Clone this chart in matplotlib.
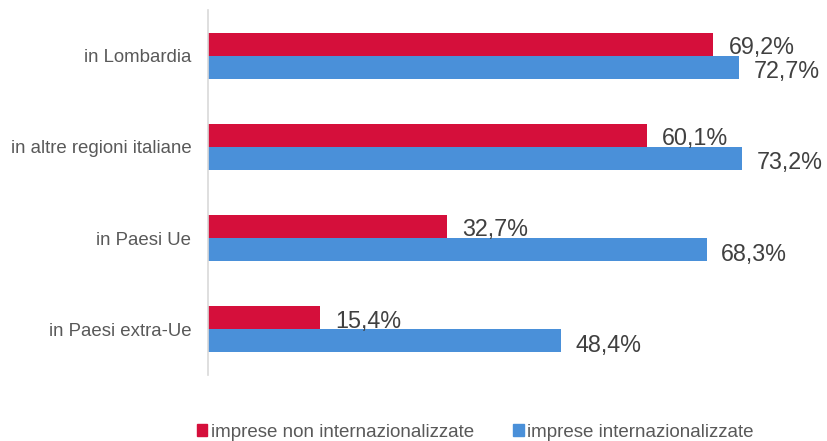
import matplotlib.pyplot as plt
import numpy as np
from matplotlib.patches import Patch

plt.rcParams['font.family'] = ['Liberation Sans', 'DejaVu Sans']

categories = ['in Lombardia', 'in altre regioni italiane', 'in Paesi Ue', 'in Paesi extra-Ue']
non_intern = [69.2, 60.1, 32.7, 15.4]
intern = [72.7, 73.2, 68.3, 48.4]
series_names = ['imprese non internazionalizzate', 'imprese internazionalizzate']

red = '#d50f3b'
blue = '#4a90d9'
value_color = '#404040'
label_color = '#595959'

fig = plt.figure(figsize=(8.28, 4.41), dpi=100)
ax = fig.add_axes([0.2512, 0.1497, 0.7494, 0.8277])

y = np.arange(len(categories))
h = 0.252
ax.barh(y - h / 2, non_intern, height=h, color=red)
ax.barh(y + h / 2, intern, height=h, color=blue)

# value labels to the right of each bar
for i in range(len(categories)):
    ax.text(non_intern[i] + 2.1, y[i] - h / 2 + 0.035, f'{non_intern[i]:.1f}%'.replace('.', ','),
            va='center', ha='left', fontsize=16.8, color=value_color, clip_on=False)
    ax.text(intern[i] + 2.0, y[i] + h / 2 + 0.05, f'{intern[i]:.1f}%'.replace('.', ','),
            va='center', ha='left', fontsize=16.8, color=value_color, clip_on=False)

ax.set_xlim(0, 85)
ax.set_ylim(len(categories) - 0.5, -0.5)
ax.set_yticks(y)
ax.set_yticklabels(categories, fontsize=13.4, color=label_color)
ax.tick_params(axis='y', length=0, pad=12)
ax.set_xticks([])
for s in ['top', 'right', 'bottom']:
    ax.spines[s].set_visible(False)
ax.spines['left'].set_color('#d9d9d9')
ax.spines['left'].set_linewidth(1.2)

handles = [Patch(color=red), Patch(color=blue)]
fig.legend(handles, series_names, loc='center', bbox_to_anchor=(0.574, 0.02), ncol=2,
           frameon=False, fontsize=13.5, handlelength=0.55, handleheight=0.55,
           handletextpad=0.2, columnspacing=2.1, labelcolor=label_color)

fig.savefig('out.png', dpi=100)
